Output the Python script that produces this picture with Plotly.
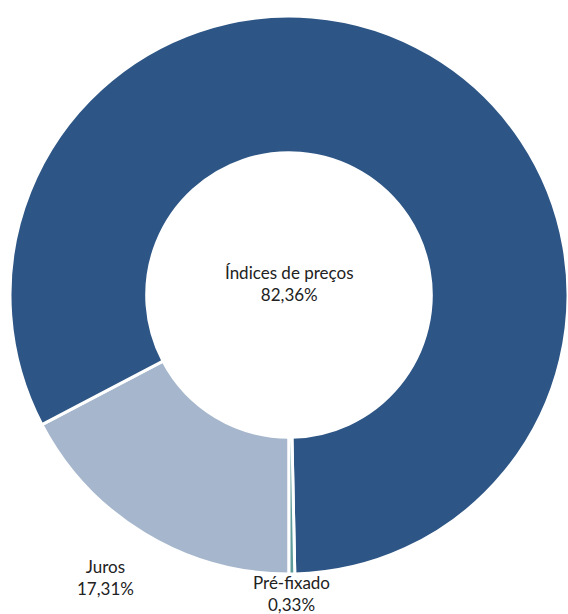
import plotly.graph_objects as go

# Composition by indexer (clockwise from 6 o'clock)
labels = ["Juros", "Índices de preços", "Pré-fixado"]
values = [17.31, 82.36, 0.33]
colors = ["#A6B7CD", "#2D5585", "#5E9C9C"]

# Label centres in paper coordinates (x, y)
label_pos = {
    "Índices de preços": (0.509, 0.539),
    "Juros": (0.185, 0.060),
    "Pré-fixado": (0.513, 0.034),
}

fig = go.Figure(
    go.Pie(
        labels=labels,
        values=values,
        hole=0.51,
        sort=False,
        direction="clockwise",
        rotation=180,
        marker=dict(colors=colors, line=dict(color="white", width=3)),
        textinfo="none",
        hoverinfo="label+percent",
        domain=dict(x=[0.0176, 1.0], y=[0.0635, 0.9756]),
        showlegend=False,
    )
)

for lab, val in zip(labels, values):
    x, y = label_pos[lab]
    txt = f"{lab}<br>{val:.2f}%".replace(".", ",")
    fig.add_annotation(
        x=x, y=y, xref="paper", yref="paper",
        xanchor="center", yanchor="middle",
        text=txt, showarrow=False,
        font=dict(family="Lato, Open Sans, sans-serif", size=17, color="#222222"),
        align="center",
    )

fig.update_layout(
    width=568,
    height=614,
    margin=dict(l=0, r=0, t=0, b=0),
    paper_bgcolor="white",
    plot_bgcolor="white",
)

fig.write_html("out.html")
